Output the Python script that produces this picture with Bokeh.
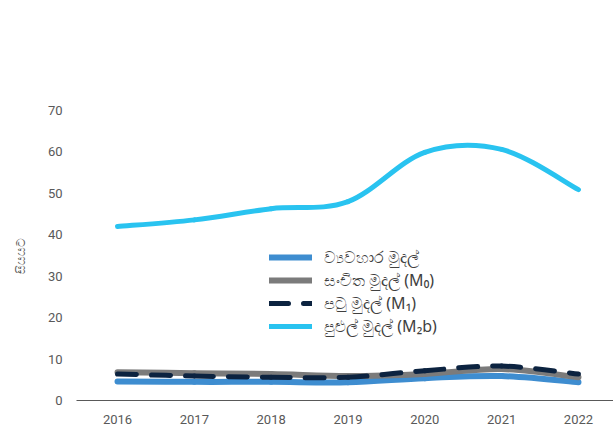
from bokeh.plotting import figure
from bokeh.models import Range1d, FixedTicker, Legend, LegendItem, ColumnDataSource
from bokeh.embed import file_html
from bokeh.resources import INLINE

years = [2016, 2017, 2018, 2019, 2020, 2021, 2022]
currency = [4.6, 4.5, 4.5, 4.4, 5.4, 5.9, 4.4]
m0 = [6.8, 6.6, 6.4, 5.9, 6.4, 7.6, 5.6]
m1 = [6.4, 5.9, 5.6, 5.6, 7.2, 8.3, 6.4]
m2b = [42.0, 43.6, 46.3, 48.0, 59.9, 60.6, 50.9]

labels = ["ව්‍යවහාර මුදල්", "සංචිත මුදල් (M₀)", "පටු මුදල් (M₁)", "පුළුල් මුදල් (M₂b)"]
y_ticks = [0, 10, 20, 30, 40, 50, 60, 70]
y_title = "සියයට"


def smooth_segments(xs, ys):
    # Excel-style smoothed line: Catmull-Rom tangents as cubic Bezier control points
    n = len(xs)
    d = dict(x0=[], y0=[], x1=[], y1=[], cx0=[], cy0=[], cx1=[], cy1=[])
    for i in range(n - 1):
        a = max(i - 1, 0)
        b = min(i + 2, n - 1)
        d["x0"].append(xs[i]); d["y0"].append(ys[i])
        d["x1"].append(xs[i + 1]); d["y1"].append(ys[i + 1])
        d["cx0"].append(xs[i] + (xs[i + 1] - xs[a]) / 6)
        d["cy0"].append(ys[i] + (ys[i + 1] - ys[a]) / 6)
        d["cx1"].append(xs[i + 1] - (xs[b] - xs[i]) / 6)
        d["cy1"].append(ys[i + 1] - (ys[b] - ys[i]) / 6)
    return ColumnDataSource(d)


p = figure(width=613, height=429, output_backend="svg", toolbar_location=None,
           x_range=Range1d(2015.466, 2022.456), y_range=Range1d(0, 70),
           min_border_top=110, min_border_left=76, min_border_right=0, min_border_bottom=29)
p.outline_line_color = None
p.xgrid.grid_line_color = None
p.ygrid.grid_line_color = None
p.background_fill_color = "white"
p.border_fill_color = "white"

styles = [
    dict(color="#3E8DD0", width=6, dash="solid"),
    dict(color="#7B7B7B", width=6, dash="solid"),
    dict(color="#0C2340", width=5, dash="19 15"),
    dict(color="#29C3F0", width=5, dash="solid"),
]
series = [currency, m0, m1, m2b]

items = []
for vals, st, lab in zip(series, styles, labels):
    src = smooth_segments(years, vals)
    r = p.bezier(x0="x0", y0="y0", x1="x1", y1="y1", cx0="cx0", cy0="cy0", cx1="cx1", cy1="cy1",
                 source=src, line_color=st["color"], line_width=st["width"],
                 line_dash=st["dash"], line_cap="round")
    items.append(LegendItem(label=lab, renderers=[r], index=0))

legend = Legend(items=items, location=(193, 63), orientation="vertical",
                border_line_color=None, background_fill_alpha=0,
                padding=0, margin=0, spacing=1, glyph_width=43, glyph_height=20,
                label_height=20, label_standoff=12,
                label_text_font="Noto Sans", label_text_font_size="16px",
                label_text_color="#404040")
p.add_layout(legend, "center")

p.xaxis.ticker = FixedTicker(ticks=years)
p.xaxis.axis_line_color = "#595959"
p.xaxis.axis_line_width = 1
p.xaxis.major_tick_line_color = None
p.xaxis.minor_tick_line_color = None
p.xaxis.major_label_standoff = 8
p.xaxis.major_label_text_font = "Roboto"
p.xaxis.major_label_text_font_size = "13px"
p.xaxis.major_label_text_color = "#595959"

p.yaxis.ticker = FixedTicker(ticks=y_ticks)
p.yaxis.axis_line_color = None
p.yaxis.major_tick_line_color = None
p.yaxis.minor_tick_line_color = None
p.yaxis.major_label_standoff = 8
p.yaxis.major_label_text_font = "Roboto"
p.yaxis.major_label_text_font_size = "13px"
p.yaxis.major_label_text_color = "#595959"
p.yaxis.axis_label = y_title
p.yaxis.axis_label_standoff = 16
p.yaxis.axis_label_text_font = "Noto Sans"
p.yaxis.axis_label_text_font_style = "normal"
p.yaxis.axis_label_text_font_size = "12px"
p.yaxis.axis_label_text_color = "#595959"

open("out.html", "w").write(file_html(p, INLINE))
